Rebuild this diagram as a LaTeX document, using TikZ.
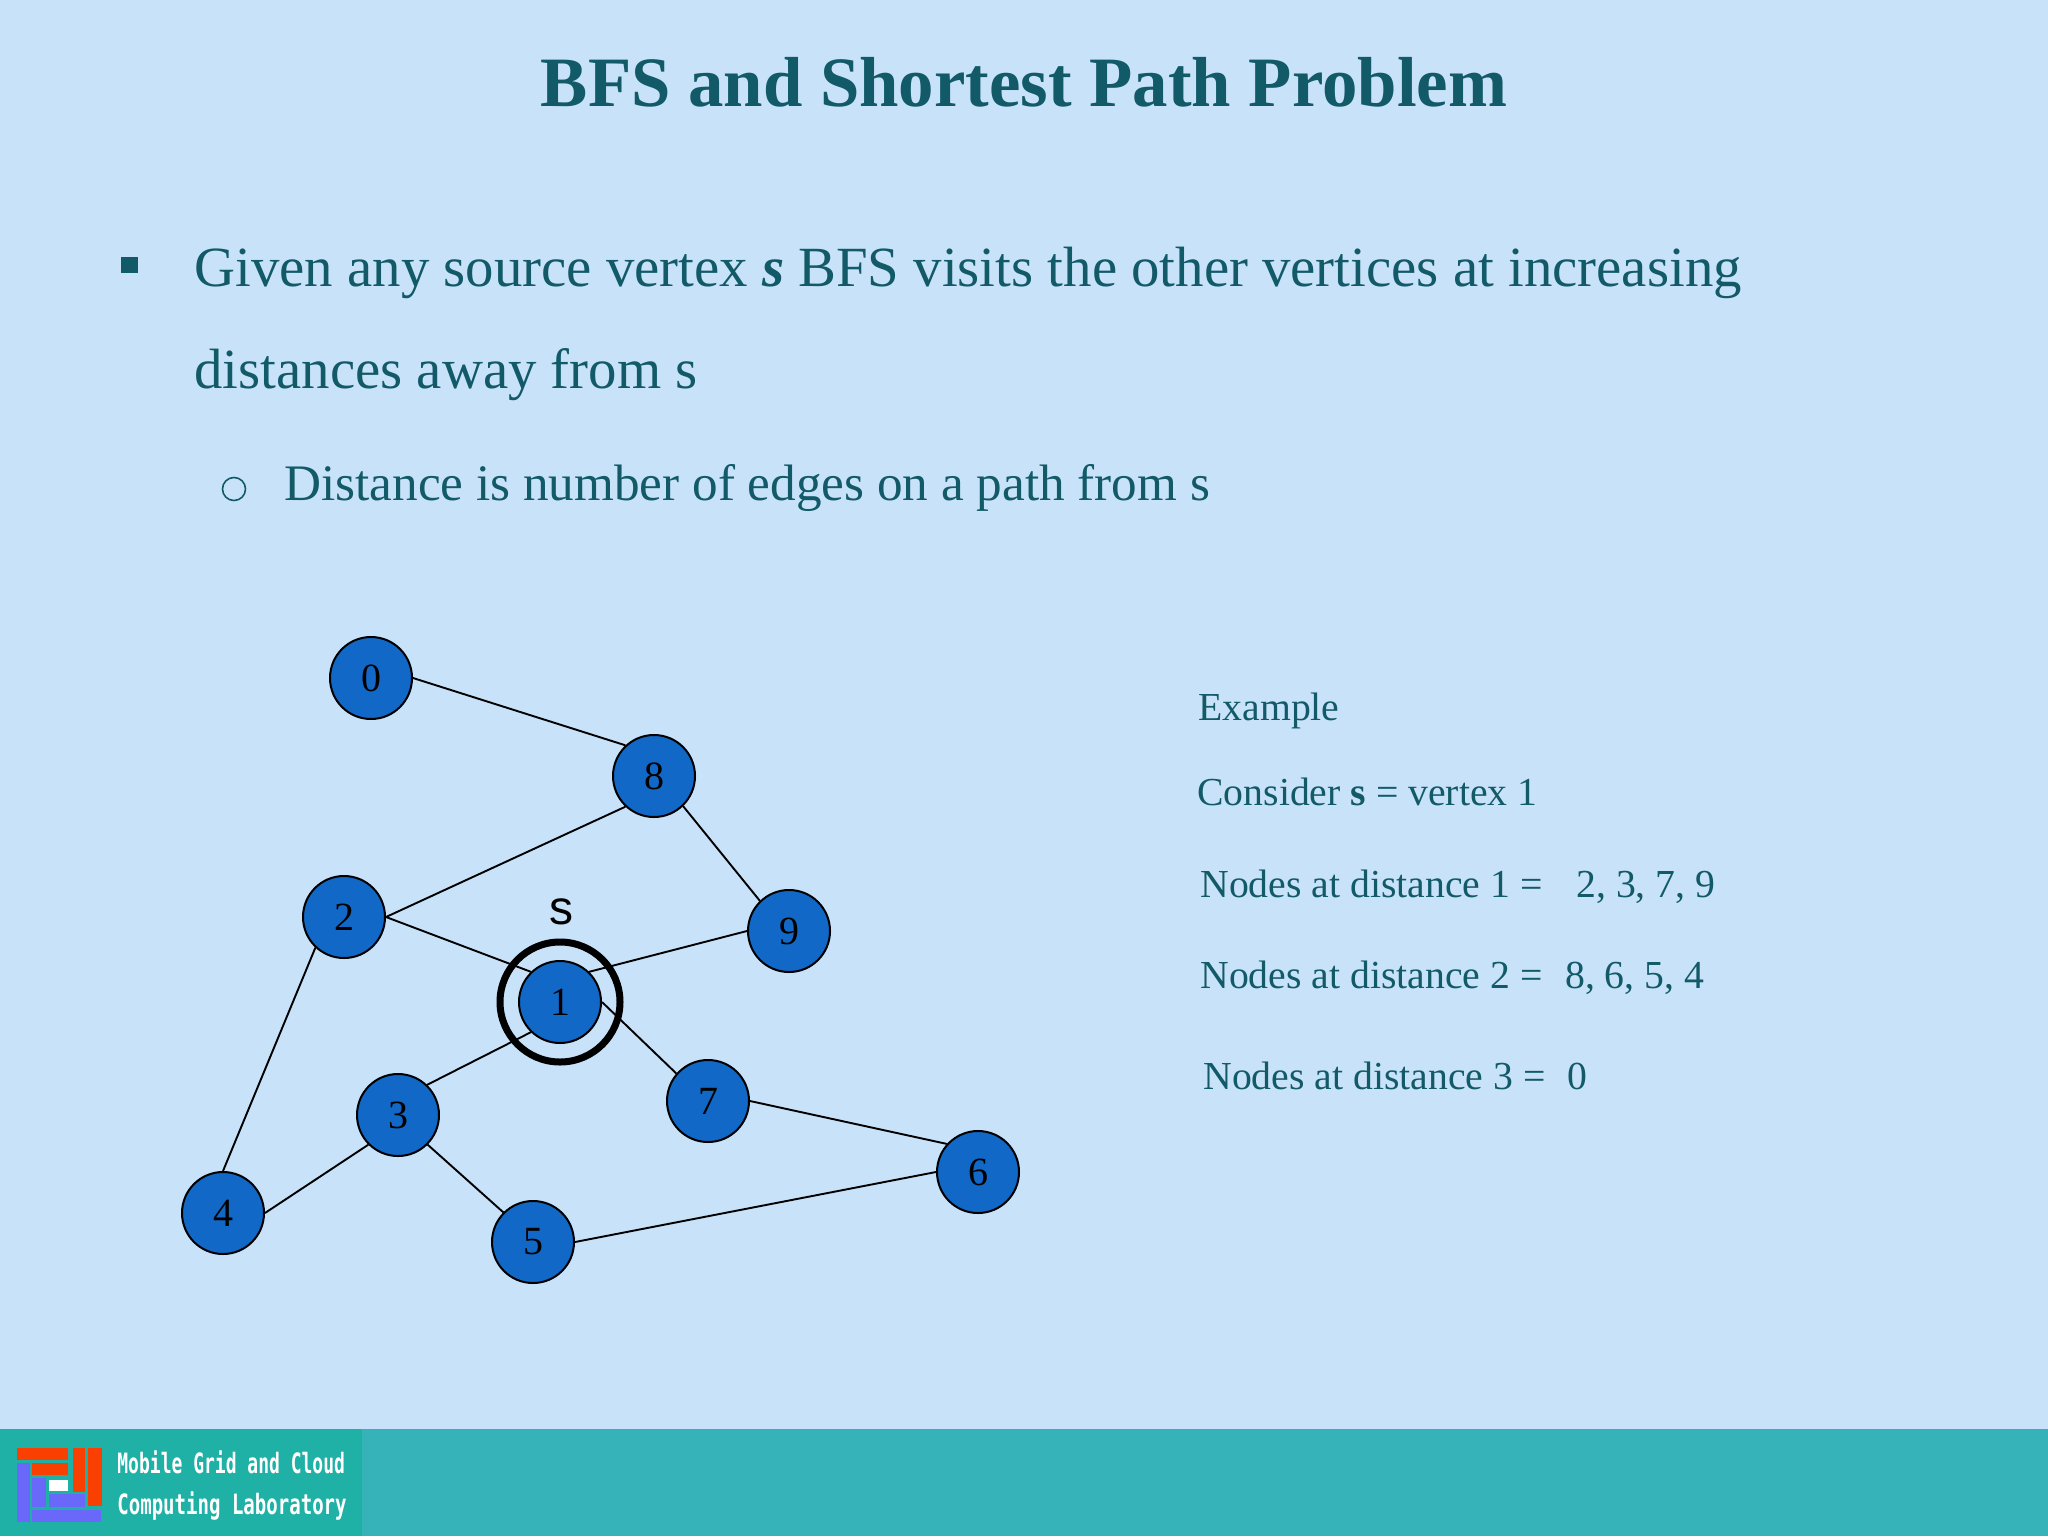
\documentclass[tikz,border=0pt]{standalone}
\usepackage{fontspec}
\setmainfont{Liberation Serif}
\newfontfamily\labelsans{Liberation Sans}
\newfontfamily\logofont{DejaVu Sans Mono}
\definecolor{slidebg}{HTML}{C7E2F9}
\definecolor{footbar}{HTML}{35B3B8}
\definecolor{logobg}{HTML}{1FB0A6}
\definecolor{teal}{HTML}{125A68}
\definecolor{nodeblue}{HTML}{1268C6}
\definecolor{logoorange}{HTML}{F94000}
\definecolor{logopurple}{HTML}{6A67FB}
\tikzset{
  vtx/.style={circle,draw=black,line width=1pt,fill=nodeblue,minimum size=41pt,inner sep=0pt,font=\fontsize{20}{24}\selectfont,text=black},
  edgeline/.style={draw=black,line width=0.95pt},
  ttext/.style={anchor=base west,inner sep=0pt,text=teal},
  body/.style={ttext,font=\fontsize{28.4}{34}\selectfont},
  subbody/.style={ttext,font=\fontsize{25.6}{30}\selectfont},
  example/.style={ttext,font=\fontsize{19.85}{24}\selectfont},
  logotext/.style={anchor=base west,inner sep=0pt,text=white,font=\logofont\bfseries\fontsize{14}{16}\selectfont},
}
\begin{document}
\begin{tikzpicture}[x=0.5pt,y=-0.5pt]
\useasboundingbox (0,0) rectangle (2048,1536);
\fill[slidebg] (0,0) rectangle (2048,1536);
\fill[footbar] (0,1429) rectangle (2048,1536);
\fill[logobg] (0,1429) rectangle (362,1536);
% logo
\fill[logoorange] (17,1448) rectangle (68,1460);
\fill[logoorange] (32,1463) rectangle (68,1475);
\fill[logoorange] (73,1448) rectangle (85,1492);
\fill[logoorange] (88,1448) rectangle (102,1506);
\fill[logopurple] (17,1463) rectangle (30,1522);
\fill[logopurple] (32,1478) rectangle (46,1507);
\fill[white] (49,1480) rectangle (68,1491);
\fill[logopurple] (49,1494) rectangle (85,1507);
\fill[logopurple] (32,1510) rectangle (101,1522);
\node[logotext] (logoa) at (117,1473) {\scalebox{0.643}[1]{Mobile Grid and Cloud}};
\node[logotext] (logob) at (117,1514) {\scalebox{0.68}[1]{Computing Laboratory}};
% title
\node[anchor=base,inner sep=0pt,text=teal,font=\bfseries\fontsize{35.4}{42}\selectfont] (title) at (1024,106) {BFS and Shortest Path Problem};
% bullets
\fill[teal] (121,257) rectangle (138,273);
\node[circle,draw=teal,line width=0.8pt,minimum size=11.5pt,inner sep=0pt] (subbullet) at (234,489) {};
\node[body] (l1) at (194,286) {Given any source vertex \textbf{\textit{s}} BFS visits the other vertices at increasing};
\node[body] (l2) at (194,388) {distances away from s};
\node[subbody] (l3) at (284,500) {Distance is number of edges on a path from s};
% example
\node[example] (e0) at (1198,720) {Example};
\node[example] (e1) at (1197,805) {Consider \textbf{s} = vertex 1};
\node[example] (e2) at (1200,897) {Nodes at distance 1 =\hspace{0.6em} 2, 3, 7, 9};
\node[example] (e3) at (1200,988) {Nodes at distance 2 =\hspace{0.32em} 8, 6, 5, 4};
\node[example] (e4) at (1203,1089) {Nodes at distance 3 =\hspace{0.3em} 0};
% graph
\node[vtx] (n0) at (371,678) {0};
\node[vtx] (n8) at (654,776) {8};
\node[vtx] (n2) at (344,917) {2};
\node[vtx] (n1) at (560,1002) {1};
\node[vtx] (n9) at (789,931) {9};
\node[vtx] (n3) at (398,1115) {3};
\node[vtx] (n7) at (708,1101) {7};
\node[vtx] (n6) at (978,1172) {6};
\node[vtx] (n4) at (223,1213) {4};
\node[vtx] (n5) at (533,1242) {5};
\node[circle,draw=black,line width=3.5pt,minimum size=60pt,inner sep=0pt] (ring) at (560,1002) {};
\node[anchor=base,inner sep=0pt,text=black,font=\labelsans\fontsize{24}{28}\selectfont] (slabel) at (561,924) {s};
\draw[edgeline] (n0.0) -- (n8.133);
\draw[edgeline] (n2.0) -- (n8.227);
\draw[edgeline] (n8.314) -- (n9.134);
\draw[edgeline] (n2.0) -- (n1.134);
\draw[edgeline] (n2.227) -- (n4.90);
\draw[edgeline] (n1.46) -- (n9.180);
\draw[edgeline] (n1.226) -- (n3.46);
\draw[edgeline] (n1.0) -- (n7.139);
\draw[edgeline] (n3.225) -- (n4.0);
\draw[edgeline] (n3.315) -- (n5.135);
\draw[edgeline] (n7.0) -- (n6.138);
\draw[edgeline] (n5.0) -- (n6.180);
\end{tikzpicture}
\end{document}
